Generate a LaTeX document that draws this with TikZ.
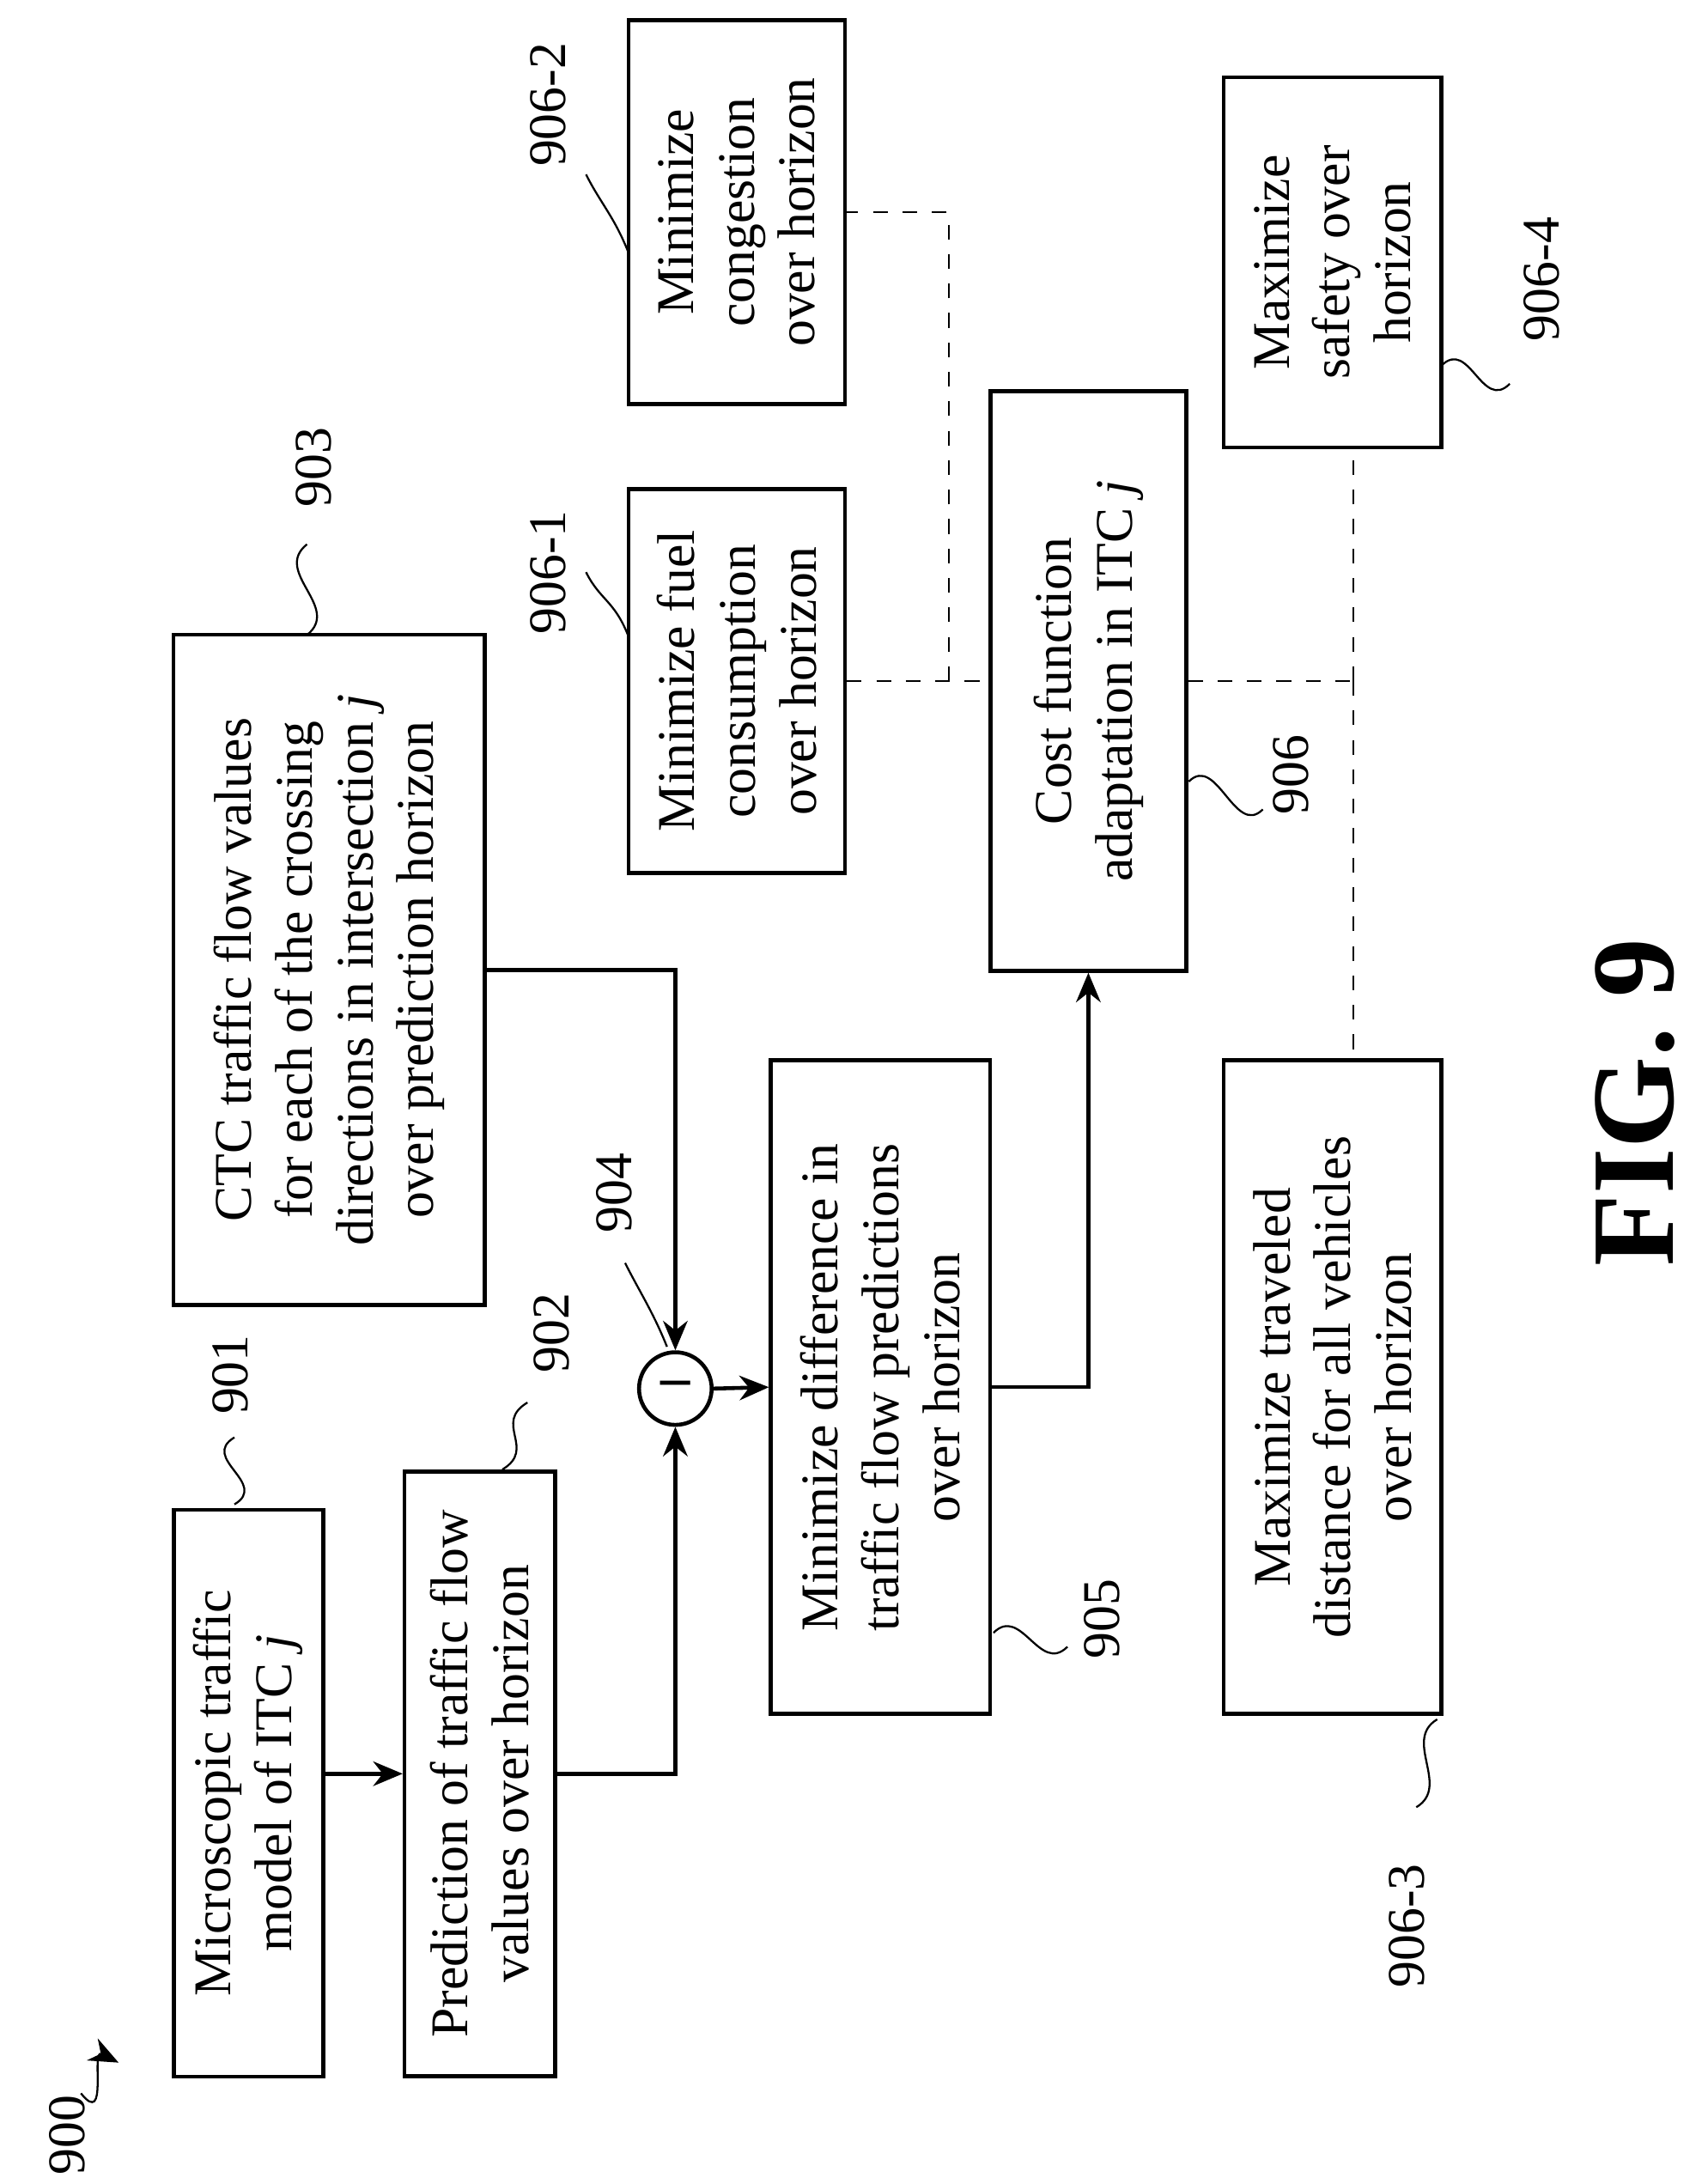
\documentclass[tikz,border=0pt]{standalone}
\usepackage{fontspec}
\setmainfont{Liberation Serif}
\usetikzlibrary{arrows.meta}
\begin{document}
\begin{tikzpicture}[x=0.01cm,y=-0.01cm,
  box/.style={draw,thick,rotate=90,align=center,inner sep=2pt,
    font=\fontsize{10.8}{12.4}\selectfont},
  lbl/.style={rotate=90,font=\fontsize{10.8}{12.4}\selectfont},
  arr/.style={thick,-{Stealth[length=6pt,width=5pt]}},
  dashlink/.style={thin,dashed},
  squig/.style={thin}]
\useasboundingbox (0,0) rectangle (1224,1565);

% main blocks
\node[box,minimum width=4.06cm,minimum height=1.07cm] (itc) at (178,1285) {Microscopic traffic\\model of ITC \textit{j}};
\node[box,minimum width=4.33cm,minimum height=1.08cm] (pred) at (344,1271) {Prediction of traffic flow\\values over horizon};
\node[box,minimum width=4.80cm,minimum height=2.23cm] (ctc) at (236,695) {CTC traffic flow values\\for each of the crossing\\directions in intersection \textit{j}\\over prediction horizon};
\node[draw,thick,circle,minimum size=0.52cm,inner sep=0pt,font=\bfseries\large] (diff) at (484,995) {--};
\node[box,minimum width=4.68cm,minimum height=1.57cm] (mindiff) at (631,994) {Minimize difference in\\traffic flow predictions\\over horizon};
\node[box,minimum width=4.15cm,minimum height=1.40cm] (cost) at (780,488) {Cost function\\adaptation in ITC \textit{j}};
\node[box,minimum width=2.75cm,minimum height=1.55cm] (fuel) at (528,488) {Minimize fuel\\consumption\\over horizon};
\node[box,minimum width=2.75cm,minimum height=1.55cm] (cong) at (528,152) {Minimize\\congestion\\over horizon};
\node[box,minimum width=4.68cm,minimum height=1.56cm] (dist) at (955,994) {Maximize traveled\\distance for all vehicles\\over horizon};
\node[box,minimum width=2.65cm,minimum height=1.56cm] (safe) at (955,188) {Maximize\\safety over\\horizon};

% connectors
\draw[arr] (itc.south |- pred.center) -- (pred.north);
\draw[arr] (pred.south) -| (diff.south);
\draw[arr] (ctc.south) -| (diff.north);
\draw[arr] (diff.east) -- (mindiff.north);
\draw[arr] (mindiff.south) -| (cost.west);
\coordinate (j1) at (680,488);
\coordinate (j2) at (970,488);
\draw[dashlink] (fuel.south) -- (cost.north);
\draw[dashlink] (j1) |- (cong.south);
\draw[dashlink] (cost.south) -- (j2);
\draw[dashlink] (j2) -- (j2 |- safe.west);
\draw[dashlink] (j2) -- (j2 |- dist.east);

% reference labels
\node[lbl] (l901) at (165,985) {901};
\draw[squig] (168,1078) .. controls +(25,-15) and +(-25,15) .. (168,1030);
\node[lbl] (l902) at (395,955) {902};
\draw[squig] (360,1053) .. controls +(25,-15) and +(-25,15) .. (378,1005);
\node[lbl] (l903) at (225,335) {903};
\draw[squig] (220,455) .. controls +(25,-20) and +(-25,20) .. (220,390);
\node[lbl] (l904) at (440,855) {904};
\draw[squig] (478,965) .. controls +(-10,-25) and +(10,20) .. (448,905);
\node[lbl] (l905) at (790,1160) {905};
\draw[squig] (712,1170) .. controls +(20,-20) and +(-20,20) .. (765,1180);
\node[lbl] (l906) at (925,555) {906};
\draw[squig] (852,560) .. controls +(20,-20) and +(-20,20) .. (905,580);
\node[lbl] (l9061) at (393,410) {906-1};
\draw[squig] (450,455) .. controls +(-10,-25) and +(10,20) .. (420,410);
\node[lbl] (l9062) at (393,75) {906-2};
\draw[squig] (450,180) .. controls +(-10,-25) and +(10,20) .. (420,125);
\node[lbl] (l9063) at (1008,1380) {906-3};
\draw[squig] (1030,1232) .. controls +(-25,15) and +(25,-15) .. (1015,1295);
\node[lbl] (l9064) at (1105,200) {906-4};
\draw[squig] (1033,262) .. controls +(20,-20) and +(-20,20) .. (1082,275);
\node[lbl] (l900) at (48,1530) {900};
\draw[arr,thin] (58,1500) .. controls +(20,25) and +(-20,-10) .. (85,1478);

\node[rotate=90,font=\fontsize{24}{28}\bfseries\selectfont] (fig) at (1172,790) {FIG. 9};
\end{tikzpicture}
\end{document}
